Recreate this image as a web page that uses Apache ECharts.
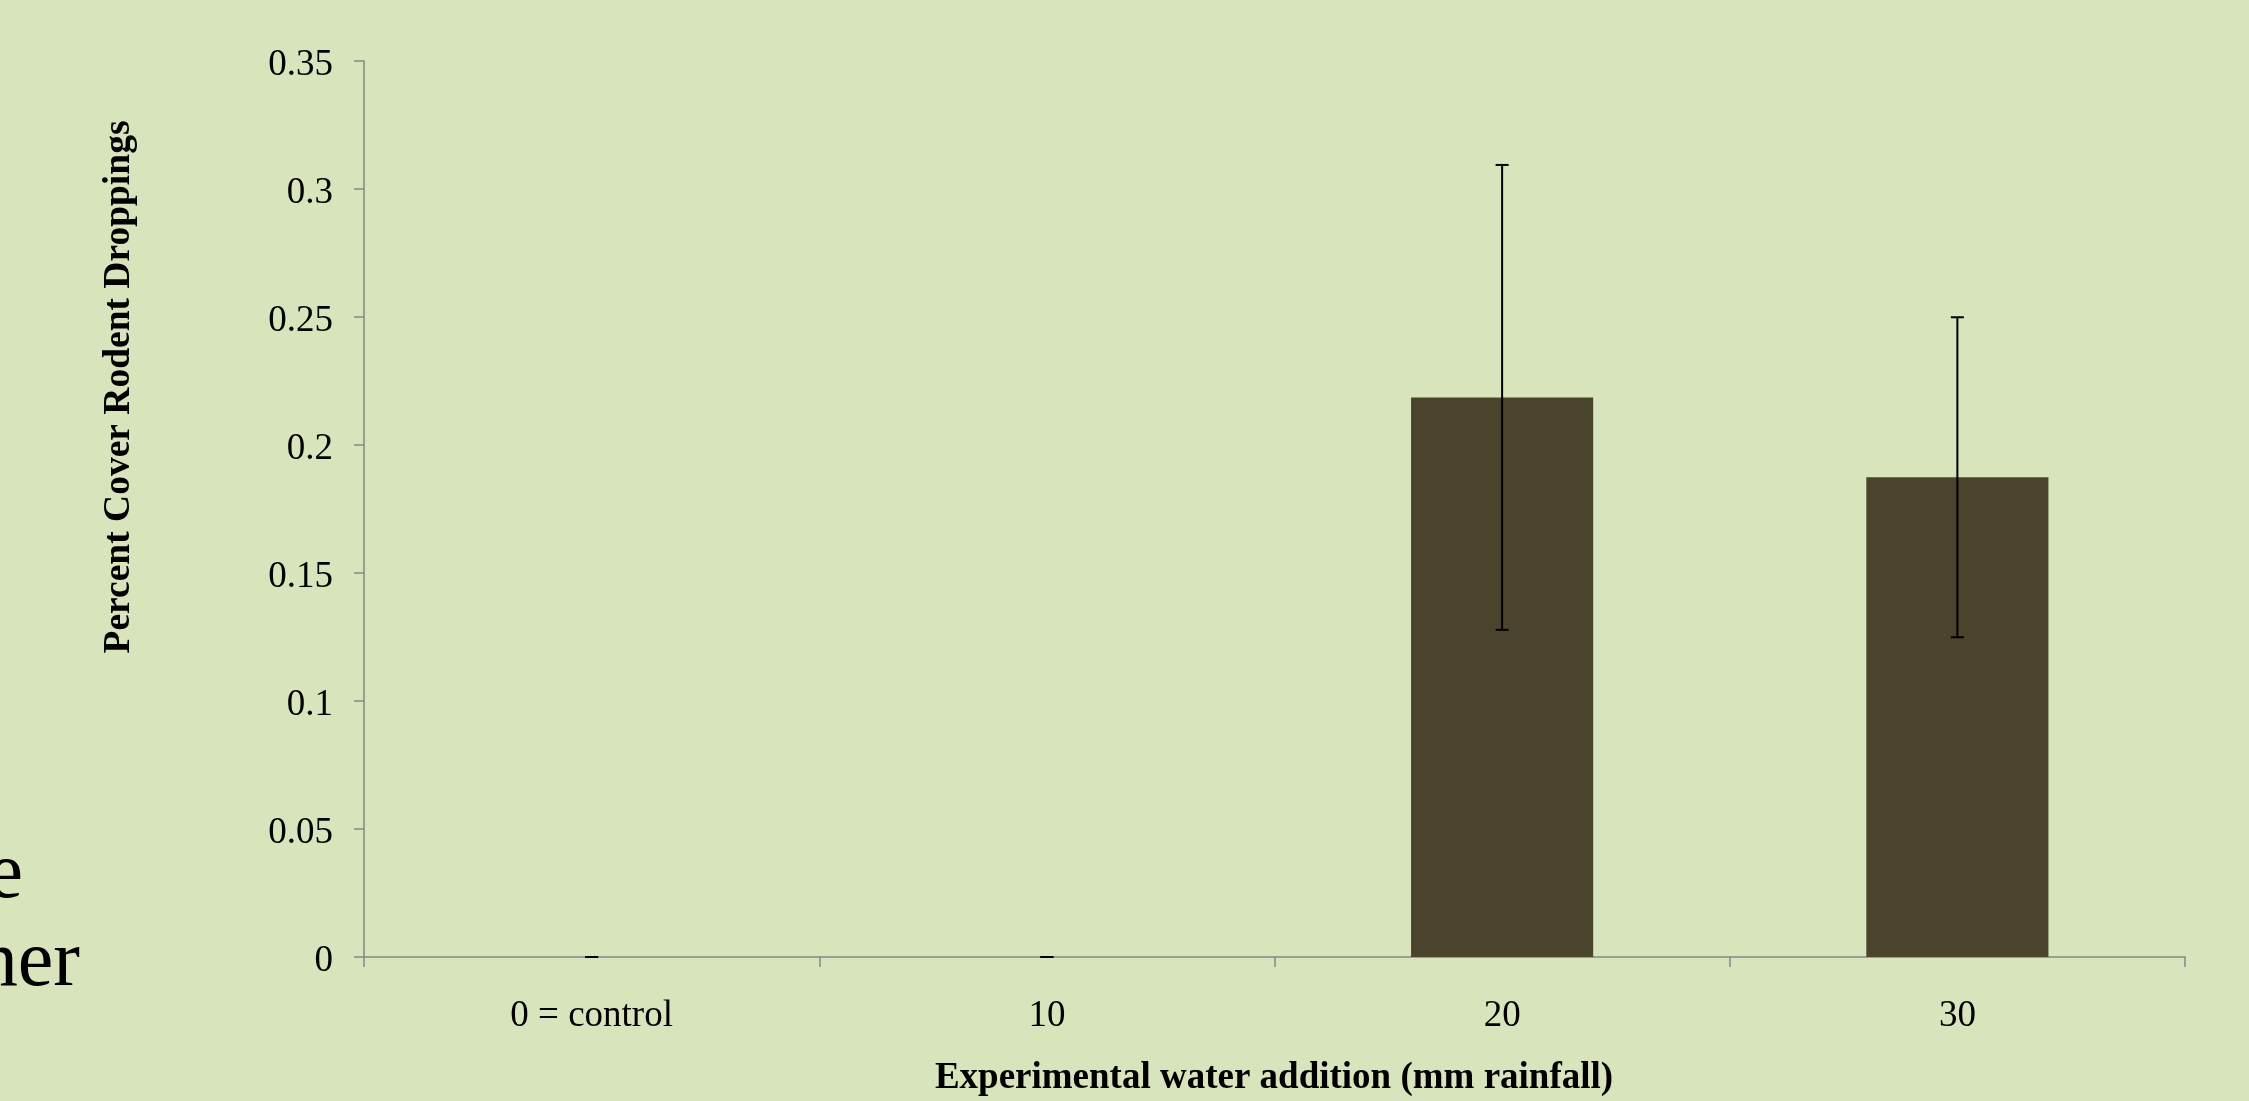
<!DOCTYPE html>
<html>
<head>
<meta charset="utf-8">
<style>
  html, body { margin: 0; padding: 0; background: #D8E4BC; }
  #chart { width: 2249px; height: 1101px; }
</style>
<script src="https://cdn.jsdelivr.net/npm/echarts@6/dist/echarts.min.js"></script>
</head>
<body>
<div id="chart"></div>
<script>
// Treatment groups (mm of added rainfall)
const categories = ['0 = control', '10', '20', '30'];
// Mean percent cover of rodent droppings per treatment
const meanCover = [0, 0, 0.2186, 0.1874];
// Standard error of each mean
const stdError = [0, 0, 0.0908, 0.0625];
// Value-axis tick settings
const yMin = 0;
const yMax = 0.35;
const yStep = 0.05;

const serif = '"Liberation Serif", "Times New Roman", serif';
const axisGray = '#868686';

const chart = echarts.init(document.getElementById('chart'), null, { renderer: 'canvas' });

const errorData = categories.map((c, i) => [i, meanCover[i], stdError[i]]);

chart.setOption({
  backgroundColor: '#D8E4BC',
  animation: false,
  grid: { left: 364, right: 64, top: 61, bottom: 144 },
  xAxis: {
    type: 'category',
    data: categories,
    boundaryGap: true,
    axisLine: { show: true, lineStyle: { color: axisGray, width: 1.5 } },
    axisTick: { show: true, length: 10, lineStyle: { color: axisGray, width: 1.5 } },
    axisLabel: { color: '#000', fontFamily: serif, fontSize: 37, margin: 41 },
    splitLine: { show: false }
  },
  yAxis: {
    type: 'value',
    min: yMin,
    max: yMax,
    interval: yStep,
    axisLine: { show: true, lineStyle: { color: axisGray, width: 1.5 } },
    axisTick: { show: true, length: 10, lineStyle: { color: axisGray, width: 1.5 } },
    axisLabel: {
      color: '#000', fontFamily: serif, fontSize: 37, margin: 31,
      verticalAlign: 'top',
      lineHeight: 8,
      formatter: v => String(Math.round(v * 100) / 100)
    },
    splitLine: { show: false }
  },
  series: [
    {
      type: 'bar',
      data: meanCover,
      barWidth: '40%',
      itemStyle: { color: '#4A442C' },
      z: 2
    },
    {
      type: 'custom',
      data: errorData,
      z: 5,
      renderItem: function (params, api) {
        const idx = api.value(0);
        const m = api.value(1);
        const e = api.value(2);
        const hi = api.coord([idx, m + e]);
        const lo = api.coord([idx, m - e]);
        const cap = 6.5;
        const style = { stroke: '#000', lineWidth: 2 };
        return {
          type: 'group',
          children: [
            { type: 'line', shape: { x1: hi[0], y1: hi[1], x2: lo[0], y2: lo[1] }, style },
            { type: 'line', shape: { x1: hi[0] - cap, y1: hi[1], x2: hi[0] + cap, y2: hi[1] }, style },
            { type: 'line', shape: { x1: lo[0] - cap, y1: lo[1], x2: lo[0] + cap, y2: lo[1] }, style }
          ]
        };
      }
    }
  ],
  graphic: [
    {
      type: 'text',
      x: 119, y: 387,
      rotation: Math.PI / 2,
      style: {
        text: 'Percent Cover Rodent Droppings',
        font: 'bold 37.5px ' + serif,
        fill: '#000',
        align: 'center',
        verticalAlign: 'middle'
      }
    },
    {
      type: 'text',
      x: 1274, y: 1078,
      style: {
        text: 'Experimental water addition (mm rainfall)',
        font: 'bold 37px ' + serif,
        fill: '#000',
        align: 'center',
        verticalAlign: 'middle'
      }
    },
    // slide body text running off the left edge behind the chart
    {
      type: 'text',
      x: 23, y: 916,
      style: {
        text: 'the',
        font: '80px ' + serif,
        fill: '#000',
        align: 'right',
        verticalAlign: 'bottom'
      }
    },
    {
      type: 'text',
      x: 80, y: 1004,
      style: {
        text: 'another',
        font: '80px ' + serif,
        fill: '#000',
        align: 'right',
        verticalAlign: 'bottom'
      }
    }
  ]
});
</script>
</body>
</html>
